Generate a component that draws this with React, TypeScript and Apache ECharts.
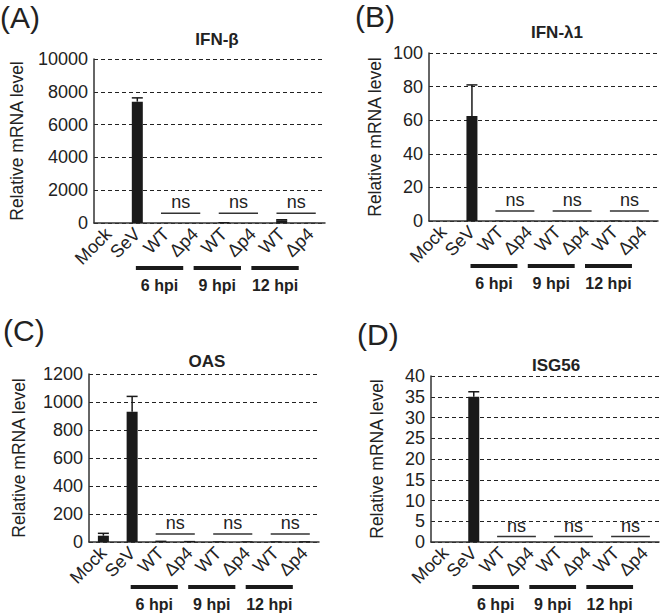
import React, { useEffect, useRef } from "react";
import * as echarts from "echarts";

const categories = ["Mock", "SeV", "WT", "Δp4", "WT", "Δp4", "WT", "Δp4"];
const groupLabels = ["6 hpi", "9 hpi", "12 hpi"];
const groupPairs = [[2, 3], [4, 5], [6, 7]];

const panelLetters = ["(A)", "(B)", "(C)", "(D)"];
const panelTitles = ["IFN-β", "IFN-λ1", "OAS", "ISG56"];

const ifnbValues = [0, 7400, 10, 5, 60, 5, 170, 10];
const ifnbErrors = [0, 230, 0, 0, 0, 0, 30, 0];
const ifnl1Values = [0, 62.5, 0.2, 0.1, 0.2, 0.1, 0.3, 0.1];
const ifnl1Errors = [0, 18.5, 0, 0, 0, 0, 0, 0];
const oasValues = [45, 930, 10, 8, 5, 5, 5, 6];
const oasErrors = [17, 110, 0, 0, 0, 0, 0, 0];
const isg56Values = [0, 35, 0.05, 0.05, 0.05, 0.05, 0.05, 0.05];
const isg56Errors = [0, 1.2, 0, 0, 0, 0, 0, 0];

const yMax = [10000, 100, 1200, 40];
const yInterval = [2000, 20, 200, 5];
const nsLevels = [600, 6, 57, 1.3];

const allValues = [ifnbValues, ifnl1Values, oasValues, isg56Values];
const allErrors = [ifnbErrors, ifnl1Errors, oasErrors, isg56Errors];

const FONT = "Liberation Sans, Arial, Helvetica, sans-serif";
const INK = "#1a1a1a";
const TXT = "#222222";

// layout (pixels)
const grids = [
  { left: 94, top: 59, right: 341, bottom: 392 },
  { left: 429, top: 53, right: 8, bottom: 394 },
  { left: 89, top: 374, right: 347, bottom: 73 },
  { left: 431, top: 376, right: 7, bottom: 73 },
];
const nameGaps = [68, 45, 61, 45];
const titlePos = [
  { x: 212, y: 26 },
  { x: 552, y: 19 },
  { x: 202, y: 348 },
  { x: 551, y: 352 },
];
const letterPos = [
  { x: 0, y: 2 },
  { x: 355, y: 1 },
  { x: 3, y: 315 },
  { x: 357, y: 319 },
];

function buildOption() {
  const grid: any[] = [];
  const xAxis: any[] = [];
  const yAxis: any[] = [];
  const series: any[] = [];
  const title: any[] = [];
  const graphic: any[] = [];

  for (let p = 0; p < 4; p++) {
    grid.push({ ...grids[p], containLabel: false });
    xAxis.push({
      type: "category",
      gridIndex: p,
      data: categories,
      axisLine: { show: true, lineStyle: { color: "#333", width: 1.5 } },
      axisTick: { show: false },
      axisLabel: {
        rotate: 45,
        interval: 0,
        margin: 8,
        fontSize: 18,
        color: TXT,
        fontFamily: FONT,
      },
      splitLine: { show: false },
    });
    yAxis.push({
      type: "value",
      gridIndex: p,
      min: 0,
      max: yMax[p],
      interval: yInterval[p],
      name: "Relative mRNA level",
      nameLocation: "middle",
      nameRotate: 90,
      nameGap: nameGaps[p],
      nameTextStyle: { fontSize: 17.5, color: TXT, fontFamily: FONT },
      axisLine: { show: true, lineStyle: { color: "#333", width: 1.5 } },
      axisTick: { show: false },
      axisLabel: {
        fontSize: 18,
        color: TXT,
        fontFamily: FONT,
        margin: 6,
        formatter: (v: number) => String(v),
      },
      splitLine: {
        show: true,
        lineStyle: { type: [4, 3], color: "#222", width: 1 },
      },
    });
    series.push({
      type: "bar",
      xAxisIndex: p,
      yAxisIndex: p,
      data: allValues[p],
      barWidth: 11,
      itemStyle: { color: INK },
      z: 3,
    });
    series.push({
      type: "custom",
      xAxisIndex: p,
      yAxisIndex: p,
      clip: false,
      z: 4,
      data: allValues[p].map((v, i) => [i, v, allErrors[p][i]]),
      renderItem: (params: any, api: any) => {
        const i = api.value(0);
        const v = api.value(1);
        const e = api.value(2);
        if (!(e > 0)) return { type: "group", children: [] };
        const b = api.coord([i, v]);
        const t = api.coord([i, v + e]);
        return {
          type: "group",
          children: [
            {
              type: "line",
              shape: { x1: b[0], y1: b[1], x2: t[0], y2: t[1] },
              style: { stroke: INK, lineWidth: 1.5 },
            },
            {
              type: "line",
              shape: { x1: t[0] - 5.5, y1: t[1], x2: t[0] + 5.5, y2: t[1] },
              style: { stroke: INK, lineWidth: 1.5 },
            },
          ],
        };
      },
    });
    series.push({
      type: "custom",
      xAxisIndex: p,
      yAxisIndex: p,
      clip: false,
      z: 5,
      data: groupPairs.map((g, k) => [g[0], g[1], nsLevels[p], k]),
      renderItem: (params: any, api: any) => {
        const i1 = api.value(0);
        const i2 = api.value(1);
        const ns = api.value(2);
        const k = api.value(3);
        const p1 = api.coord([i1, ns]);
        const p2 = api.coord([i2, ns]);
        const base = api.coord([i1, 0]);
        const bw = api.size([1, 0])[0];
        const mid = (p1[0] + p2[0]) / 2;
        const half = 0.68 * bw;
        const gc = mid - 0.73 * bw;
        const gh = 0.82 * bw;
        return {
          type: "group",
          children: [
            {
              type: "line",
              shape: { x1: mid - half, y1: p1[1], x2: mid + half, y2: p1[1] },
              style: { stroke: "#333", lineWidth: 1.5 },
            },
            {
              type: "text",
              x: mid,
              y: p1[1] - 11,
              style: {
                text: "ns",
                align: "center",
                verticalAlign: "middle",
                fontSize: 18,
                fontFamily: FONT,
                fill: TXT,
              },
            },
            {
              type: "rect",
              shape: { x: gc - gh, y: base[1] + 43, width: 2 * gh, height: 4 },
              style: { fill: INK },
            },
            {
              type: "text",
              x: gc,
              y: base[1] + 62,
              style: {
                text: groupLabels[k],
                align: "center",
                verticalAlign: "middle",
                fontSize: 16,
                fontWeight: "bold",
                fontFamily: FONT,
                fill: TXT,
              },
            },
          ],
        };
      },
    });
    title.push({
      text: panelTitles[p],
      left: titlePos[p].x,
      top: titlePos[p].y,
      textAlign: "center",
      textStyle: {
        fontSize: 17,
        fontWeight: "bold",
        color: TXT,
        fontFamily: FONT,
      },
    });
    graphic.push({
      type: "text",
      left: letterPos[p].x,
      top: letterPos[p].y,
      style: {
        text: panelLetters[p],
        fontSize: 30,
        fontFamily: FONT,
        fill: TXT,
      },
    });
  }

  return {
    animation: false,
    backgroundColor: "#ffffff",
    title,
    grid,
    xAxis,
    yAxis,
    series,
    graphic,
  };
}

export default function App() {
  const ref = useRef<HTMLDivElement>(null);
  useEffect(() => {
    if (!ref.current) return;
    const chart = echarts.init(ref.current, null, { renderer: "svg" });
    chart.setOption(buildOption());
    return () => chart.dispose();
  }, []);
  return (
    <div
      ref={ref}
      style={{ position: "fixed", left: 0, top: 0, width: 666, height: 615 }}
    />
  );
}
